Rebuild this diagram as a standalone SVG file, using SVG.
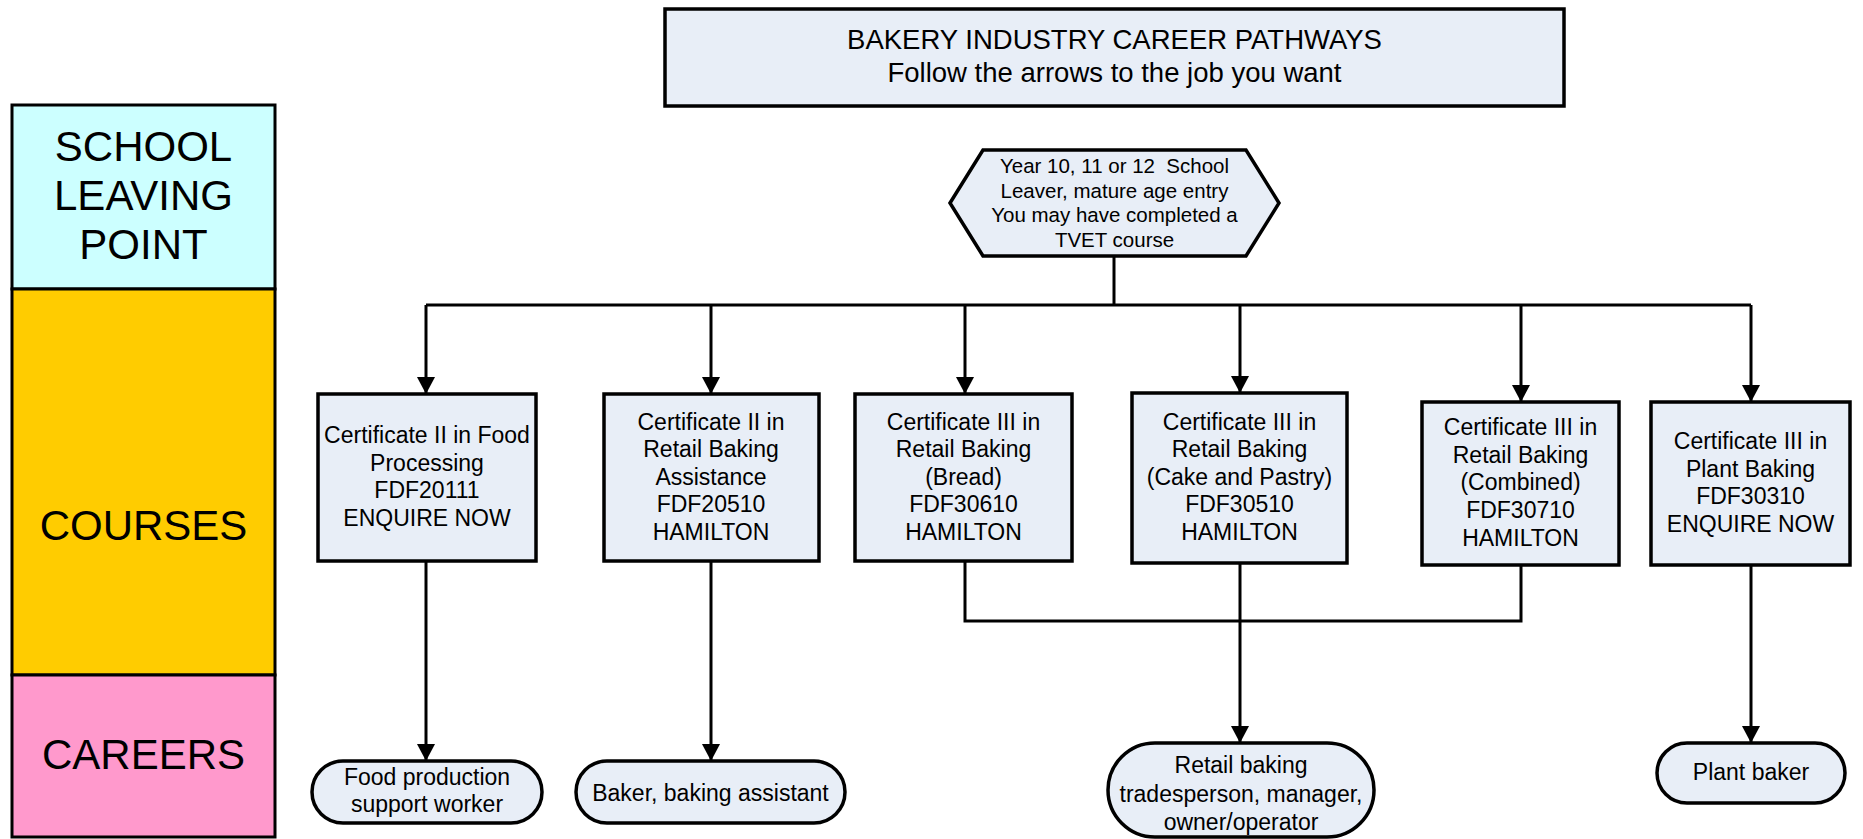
<svg xmlns="http://www.w3.org/2000/svg" width="1863" height="839" viewBox="0 0 1863 839">
<style>
text{font-family:"Liberation Sans",Arial,sans-serif;fill:#000;text-anchor:middle}
.lane{stroke:#000;stroke-width:3}
.lt{font-size:42px}
.box{fill:#E8EEF7;stroke:#000;stroke-width:3.5}
.bt{font-size:23px}
.ht{font-size:20.5px}
.tt{font-size:27.5px}
.con{fill:none;stroke:#000;stroke-width:3}
</style>
<defs>
<marker id="arr" markerUnits="userSpaceOnUse" markerWidth="18" markerHeight="18" refX="17" refY="9" orient="auto">
<path d="M0,0 L17,9 L0,18 z" fill="#000"/>
</marker>
</defs>
<g id="lane-school">
<rect class="lane" x="12" y="105" width="263" height="184" fill="#CCFFFF"/>
<text class="lt" x="143.5" y="161">SCHOOL</text>
<text class="lt" x="143.5" y="210">LEAVING</text>
<text class="lt" x="143.5" y="259">POINT</text>
</g>
<g id="lane-courses">
<rect class="lane" x="12" y="289" width="263" height="386" fill="#FFCC00"/>
<text class="lt" x="143.5" y="540">COURSES</text>
</g>
<g id="lane-careers">
<rect class="lane" x="12" y="675" width="263" height="162" fill="#FF99CC"/>
<text class="lt" x="143.5" y="769">CAREERS</text>
</g>
<g id="connectors">
<path class="con" d="M1114,256 V305"/>
<path class="con" d="M426,305 H1751"/>
<path class="con" d="M426,305 V394" marker-end="url(#arr)"/>
<path class="con" d="M711,305 V394" marker-end="url(#arr)"/>
<path class="con" d="M965,305 V394" marker-end="url(#arr)"/>
<path class="con" d="M1240,305 V393" marker-end="url(#arr)"/>
<path class="con" d="M1521,305 V402" marker-end="url(#arr)"/>
<path class="con" d="M1751,305 V402" marker-end="url(#arr)"/>
<path class="con" d="M426,561 V761" marker-end="url(#arr)"/>
<path class="con" d="M711,561 V761" marker-end="url(#arr)"/>
<path class="con" d="M965,561 V621 H1521 V565"/>
<path class="con" d="M1240,563 V743" marker-end="url(#arr)"/>
<path class="con" d="M1751,565 V743" marker-end="url(#arr)"/>
</g>
<g id="title">
<rect class="box" x="665" y="9" width="899" height="97"/>
<text class="tt" x="1114.5" y="49">BAKERY INDUSTRY CAREER PATHWAYS</text>
<text class="tt" x="1114.5" y="82">Follow the arrows to the job you want</text>
</g>
<g id="start">
<polygon class="box" points="950,203 983,150 1246,150 1279,203 1246,256 983,256"/>
<text class="ht" x="1114.5" y="173">Year 10, 11 or 12&#160; School</text>
<text class="ht" x="1114.5" y="198">Leaver, mature age entry</text>
<text class="ht" x="1114.5" y="222">You may have completed a</text>
<text class="ht" x="1114.5" y="247">TVET course</text>
</g>
<g id="course1">
<rect class="box" x="318" y="394" width="218" height="167"/>
<text class="bt" x="427" y="443">Certificate II in Food</text>
<text class="bt" x="427" y="470.5">Processing</text>
<text class="bt" x="427" y="498">FDF20111</text>
<text class="bt" x="427" y="525.5">ENQUIRE NOW</text>
</g>
<g id="course2">
<rect class="box" x="604" y="394" width="215" height="167"/>
<text class="bt" x="711" y="430">Certificate II in</text>
<text class="bt" x="711" y="457">Retail Baking</text>
<text class="bt" x="711" y="484.5">Assistance</text>
<text class="bt" x="711" y="512">FDF20510</text>
<text class="bt" x="711" y="539.5">HAMILTON</text>
</g>
<g id="course3">
<rect class="box" x="855" y="394" width="217" height="167"/>
<text class="bt" x="963.5" y="430">Certificate III in</text>
<text class="bt" x="963.5" y="457">Retail Baking</text>
<text class="bt" x="963.5" y="484.5">(Bread)</text>
<text class="bt" x="963.5" y="512">FDF30610</text>
<text class="bt" x="963.5" y="539.5">HAMILTON</text>
</g>
<g id="course4">
<rect class="box" x="1132" y="393" width="215" height="170"/>
<text class="bt" x="1239.5" y="430">Certificate III in</text>
<text class="bt" x="1239.5" y="457">Retail Baking</text>
<text class="bt" x="1239.5" y="484.5">(Cake and Pastry)</text>
<text class="bt" x="1239.5" y="512">FDF30510</text>
<text class="bt" x="1239.5" y="539.5">HAMILTON</text>
</g>
<g id="course5">
<rect class="box" x="1422" y="402" width="197" height="163"/>
<text class="bt" x="1520.5" y="435">Certificate III in</text>
<text class="bt" x="1520.5" y="462.5">Retail Baking</text>
<text class="bt" x="1520.5" y="490">(Combined)</text>
<text class="bt" x="1520.5" y="517.5">FDF30710</text>
<text class="bt" x="1520.5" y="545.5">HAMILTON</text>
</g>
<g id="course6">
<rect class="box" x="1651" y="402" width="199" height="163"/>
<text class="bt" x="1750.5" y="449">Certificate III in</text>
<text class="bt" x="1750.5" y="476.5">Plant Baking</text>
<text class="bt" x="1750.5" y="504">FDF30310</text>
<text class="bt" x="1750.5" y="531.5">ENQUIRE NOW</text>
</g>
<g id="career1">
<rect class="box" x="312" y="761" width="230" height="62" rx="31"/>
<text class="bt" x="427" y="785">Food production</text>
<text class="bt" x="427" y="812">support worker</text>
</g>
<g id="career2">
<rect class="box" x="576" y="761" width="269" height="62" rx="31"/>
<text class="bt" x="710.5" y="801">Baker, baking assistant</text>
</g>
<g id="career3">
<rect class="box" x="1108" y="743" width="266" height="94" rx="47"/>
<text class="bt" x="1241" y="773">Retail baking</text>
<text class="bt" x="1241" y="802">tradesperson, manager,</text>
<text class="bt" x="1241" y="830">owner/operator</text>
</g>
<g id="career4">
<rect class="box" x="1657" y="743" width="188" height="60" rx="30"/>
<text class="bt" x="1751" y="780">Plant baker</text>
</g>
</svg>
